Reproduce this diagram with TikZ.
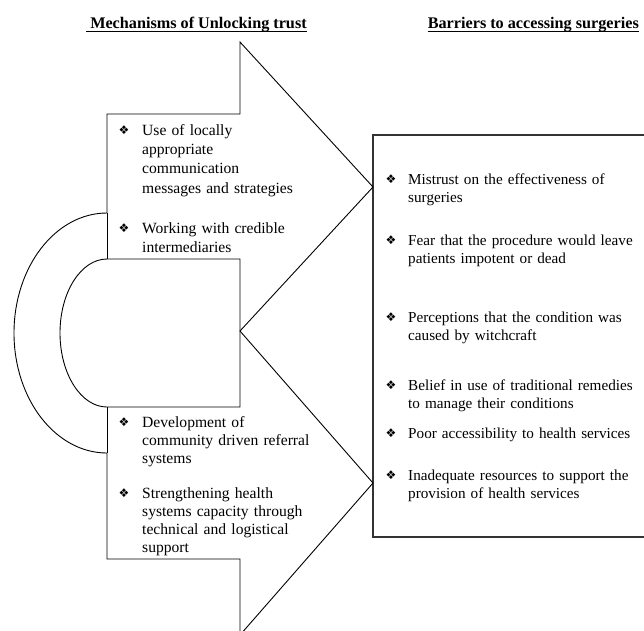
\documentclass[tikz,border=0pt]{standalone}
\usepackage{fontspec}
\setmainfont{Liberation Serif}
\newfontfamily\bulfont{DejaVu Sans}
\tikzset{
  outl/.style={draw=black, line width=0.9pt, line join=miter},
  boxl/.style={draw=black!80, line width=1.3pt},
  itm/.style={anchor=base west, inner sep=0pt, align=left, text width=300pt,
    font=\fontsize{15.6}{18.1}\selectfont},
  itmr/.style={itm, font=\fontsize{15.2}{18.1}\selectfont},
  itmtop/.style={itm, font=\fontsize{15.6}{19.4}\selectfont},
  bul/.style={inner sep=0pt, font=\bulfont\fontsize{12}{12}\selectfont},
  hdr/.style={inner sep=0pt, font=\bfseries\fontsize{16.2}{18}\selectfont},
  uline/.style={draw=black, line width=1pt}
}
\begin{document}
\begin{tikzpicture}[x=1pt,y=1pt]
\useasboundingbox (0,0) rectangle (644,-630);
\clip (0,0) rectangle (644,-630);
% headers
\node[hdr, anchor=base west] (h1) at (86,-28) {\ Mechanisms of Unlocking trust};
\draw[uline] ([yshift=-3pt]h1.base west) -- ([yshift=-3pt]h1.base east);
\node[hdr, anchor=base east] (h2) at (639,-28) {Barriers to accessing surgeries};
\draw[uline] ([yshift=-3pt]h2.base west) -- ([yshift=-3pt]h2.base east);
% barriers box
\draw[boxl] (373,-135) rectangle (660,-537);
% outline of arrows and U-turn
\draw[outl] (107,-213) arc[start angle=90, end angle=270, x radius=93, y radius=120]
  -- (107,-559) -- (240,-559) -- (240,-635) -- (373,-483) -- (240,-331)
  -- (373,-187) -- (240,-42) -- (240,-114) -- (107,-114) -- cycle;
\draw[outl] (240,-259) -- (107,-259)
  arc[start angle=90, end angle=270, x radius=47, y radius=74]
  -- (240,-407) -- cycle;
\draw[outl] (107,-213) -- (107,-259);
\draw[outl] (107,-407) -- (107,-453);
% mechanisms (top)
\node[bul] (b1) at (124,-130) {❖};
\node[itmtop] (t1) at (142,-135) {Use of locally\\appropriate\\communication\\messages and strategies};
\node[bul] (b2) at (124,-228) {❖};
\node[itmtop] (t2) at (142,-233) {Working with credible\\intermediaries};
% mechanisms (bottom)
\node[bul] (b3) at (124,-422) {❖};
\node[itm] (t3) at (142,-427) {Development of\\community driven referral\\systems};
\node[bul] (b4) at (124,-493) {❖};
\node[itm] (t4) at (142,-498) {Strengthening health\\systems capacity through\\technical and logistical\\support};
% barriers
\node[bul] (b5) at (391,-179) {❖};
\node[itmr] (t5) at (408,-184) {Mistrust on the effectiveness of\\surgeries};
\node[bul] (b6) at (391,-240) {❖};
\node[itmr] (t6) at (408,-245) {Fear that the procedure would leave\\patients impotent or dead};
\node[bul] (b7) at (391,-317) {❖};
\node[itmr] (t7) at (408,-322) {Perceptions that the condition was\\caused by witchcraft};
\node[bul] (b8) at (391,-385) {❖};
\node[itmr] (t8) at (408,-390) {Belief in use of traditional remedies\\to manage their conditions};
\node[bul] (b9) at (391,-433) {❖};
\node[itmr] (t9) at (408,-438) {Poor accessibility to health services};
\node[bul] (b10) at (391,-475) {❖};
\node[itmr] (t10) at (408,-480) {Inadequate resources to support the\\provision of health services};
\end{tikzpicture}
\end{document}
